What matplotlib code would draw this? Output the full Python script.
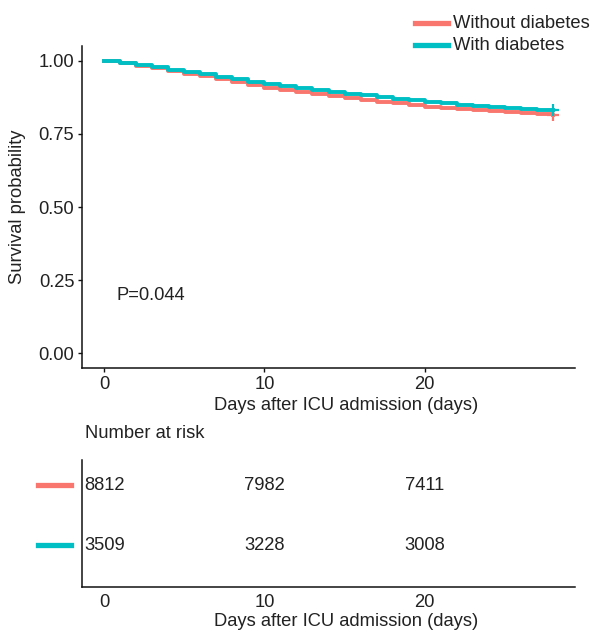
import matplotlib
matplotlib.use("Agg")
import matplotlib.pyplot as plt
from matplotlib.lines import Line2D

plt.rcParams['font.family'] = ['Liberation Sans', 'DejaVu Sans']

# ---- data ----
days = [0, 1, 2, 3, 4, 5, 6, 7, 8, 9, 10, 11, 12, 13, 14, 15, 16, 17, 18, 19,
        20, 21, 22, 23, 24, 25, 26, 27, 28]
surv_without = [1.000, 0.992, 0.983, 0.974, 0.965, 0.956, 0.946, 0.937, 0.927, 0.917,
                0.907, 0.900, 0.893, 0.886, 0.879, 0.872, 0.866, 0.860, 0.854, 0.848,
                0.843, 0.839, 0.835, 0.831, 0.827, 0.823, 0.820, 0.816, 0.813]
surv_with = [1.000, 0.993, 0.985, 0.977, 0.969, 0.962, 0.953, 0.945, 0.936, 0.928,
             0.920, 0.913, 0.906, 0.899, 0.893, 0.887, 0.881, 0.876, 0.870, 0.864,
             0.858, 0.854, 0.850, 0.846, 0.842, 0.839, 0.836, 0.833, 0.830]
groups = ["Without diabetes", "With diabetes"]
colors = ["#F8766D", "#00BFC4"]
risk_times = [0, 10, 20]
risk_without = [8812, 7982, 7411]
risk_with = [3509, 3228, 3008]
p_text = "P=0.044"
xticks = [0, 10, 20]
yticks = [0.00, 0.25, 0.50, 0.75, 1.00]

W, H = 596, 633
fig = plt.figure(figsize=(W / 100, H / 100), dpi=100)
txt = "#222222"
fs = 13.2

def fx(px):
    return px / W

def fy(py):
    return 1 - py / H

# ---- main KM axes ----
ax = fig.add_axes([fx(82), fy(368), fx(575) - fx(82), fy(46) - fy(368)])
for s, c in zip([surv_without, surv_with], colors):
    ax.plot(days, s, drawstyle="steps-post", color=c, lw=2.8)
    ax.plot([days[-1]], [s[-1]], marker="+", color=c, ms=9, mew=1.6)
ax.set_xlim(-1.4, 29.4)
ax.set_ylim(-0.05, 1.05)
ax.set_xticks(xticks)
ax.set_yticks(yticks)
ax.set_yticklabels([f"{v:.2f}" for v in yticks])
for sp in ["top", "right"]:
    ax.spines[sp].set_visible(False)
for sp in ["left", "bottom"]:
    ax.spines[sp].set_linewidth(1.1)
    ax.spines[sp].set_color("#111111")
ax.tick_params(direction="out", length=3, width=1.0, colors="#111111",
               labelsize=fs, labelcolor=txt, pad=2.5)
fig.text(fx(18), fy(207), "Survival probability", fontsize=fs, color=txt,
         rotation=90, ha="center", va="center")
fig.text(fx(346), fy(405), "Days after ICU admission (days)", fontsize=fs, color=txt,
         ha="center", va="center")
ax.text(0.75, 0.197, p_text, fontsize=fs, color=txt, ha="left", va="center")

# ---- legend (manual) ----
for i, (g, c) in enumerate(zip(groups, colors)):
    y = 23 + 22 * i
    fig.add_artist(Line2D([fx(415), fx(448)], [fy(y), fy(y)], color=c, lw=3.8,
                          transform=fig.transFigure))
    fig.text(fx(453), fy(y), g, fontsize=fs, color=txt, ha="left", va="center")

# ---- risk table ----
fig.text(fx(85), fy(433), "Number at risk", fontsize=fs, color=txt, ha="left", va="center")
rax = fig.add_axes([fx(82), fy(587), fx(575) - fx(82), fy(460) - fy(587)])
rax.set_xlim(-1.4, 29.4)
rax.set_ylim(0.3, 2.417)
for row, vals in zip([2, 1], [risk_without, risk_with]):
    for t, v in zip(risk_times, vals):
        rax.text(t, row, str(v), fontsize=fs, color=txt, ha="center", va="center")
rax.set_xticks(xticks)
rax.set_yticks([])
for sp in ["top", "right"]:
    rax.spines[sp].set_visible(False)
for sp in ["left", "bottom"]:
    rax.spines[sp].set_linewidth(1.1)
    rax.spines[sp].set_color("#111111")
rax.tick_params(axis="x", length=0, labelsize=fs, labelcolor=txt, pad=5)
fig.text(fx(346), fy(622), "Days after ICU admission (days)", fontsize=fs, color=txt,
         ha="center", va="center")
for row_y, c in zip([485, 545], colors):
    fig.add_artist(Line2D([fx(38), fx(71)], [fy(row_y), fy(row_y)], color=c, lw=3.8,
                          transform=fig.transFigure))

fig.savefig("out.png", dpi=100)
